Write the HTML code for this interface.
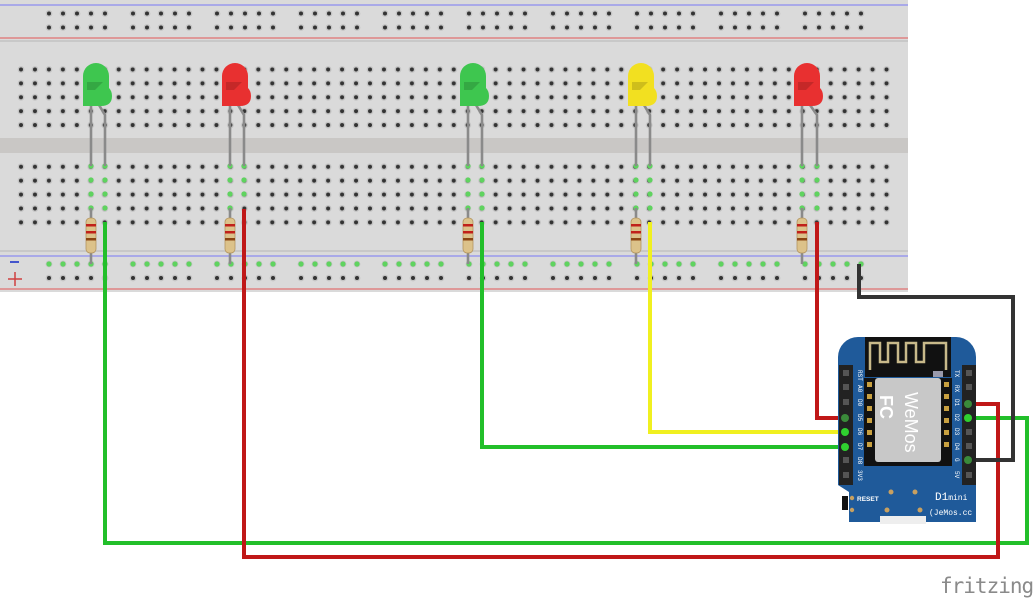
<!DOCTYPE html>
<html><head><meta charset="utf-8"><style>
html,body{margin:0;padding:0;background:#fff;width:1033px;height:600px;overflow:hidden}
svg{display:block}
</style></head><body>
<svg width="1033" height="600" viewBox="0 0 1033 600" xmlns="http://www.w3.org/2000/svg">
<defs>
<pattern id="main" x="14" y="62.5" width="13.96" height="13.9" patternUnits="userSpaceOnUse">
<circle cx="7" cy="7" r="3.4" fill="#c4c4c4"/><circle cx="7" cy="7" r="2" fill="#333"/>
</pattern>
<pattern id="rail" x="42" y="6.5" width="84" height="14" patternUnits="userSpaceOnUse">
<g fill="#c4c4c4"><circle cx="7" cy="7" r="3.4"/><circle cx="21" cy="7" r="3.4"/><circle cx="35" cy="7" r="3.4"/><circle cx="49" cy="7" r="3.4"/><circle cx="63" cy="7" r="3.4"/></g>
<g fill="#333"><circle cx="7" cy="7" r="2"/><circle cx="21" cy="7" r="2"/><circle cx="35" cy="7" r="2"/><circle cx="49" cy="7" r="2"/><circle cx="63" cy="7" r="2"/></g>
</pattern>
<pattern id="rail2" x="42" y="257" width="84" height="14" patternUnits="userSpaceOnUse">
<g fill="#c4c4c4"><circle cx="7" cy="7" r="3.4"/><circle cx="21" cy="7" r="3.4"/><circle cx="35" cy="7" r="3.4"/><circle cx="49" cy="7" r="3.4"/><circle cx="63" cy="7" r="3.4"/></g>
<g fill="#333"><circle cx="7" cy="7" r="2"/><circle cx="21" cy="7" r="2"/><circle cx="35" cy="7" r="2"/><circle cx="49" cy="7" r="2"/><circle cx="63" cy="7" r="2"/></g>
</pattern>
<g id="res"><rect x="-5" y="0" width="10" height="35" rx="4" fill="#dcc28a" stroke="#b39560" stroke-width="0.8"/>
<rect x="-5" y="6" width="10" height="2.5" fill="#c0201a"/><rect x="-5" y="13" width="10" height="2.5" fill="#c0201a"/><rect x="-5" y="20" width="10" height="2.5" fill="#8b4513"/></g>
<path id="led" d="M-14 106 V76 a13 13 0 0 1 26 0 V88 q3 3 3 8 q0 10 -11 10 Z"/>
</defs>

<!-- breadboard -->
<rect x="0" y="0" width="908" height="292" fill="#dadada"/>
<rect x="0" y="40" width="908" height="2" fill="#c8c8c8"/>
<rect x="0" y="138" width="908" height="15" fill="#c9c7c5"/>
<rect x="0" y="250" width="908" height="2" fill="#c8c8c8"/>
<line x1="0" y1="5" x2="908" y2="5" stroke="#8c8cf0" stroke-width="1.2"/>
<line x1="0" y1="38" x2="908" y2="38" stroke="#e07070" stroke-width="1.2"/>
<line x1="0" y1="256" x2="908" y2="256" stroke="#8c8cf0" stroke-width="1.2"/>
<line x1="0" y1="289" x2="908" y2="289" stroke="#e07070" stroke-width="1.2"/>
<rect x="42" y="6.5" width="828" height="28" fill="url(#rail)"/>
<rect x="42" y="257" width="828" height="28" fill="url(#rail2)"/>
<rect x="14" y="62.5" width="880" height="69.5" fill="url(#main)"/>
<rect x="14" y="159" width="880" height="69.5" fill="url(#main)"/>
<line x1="10" y1="262" x2="19" y2="262" stroke="#4455cc" stroke-width="2"/>
<line x1="8" y1="279" x2="22" y2="279" stroke="#d04040" stroke-width="1.5"/>
<line x1="15" y1="272" x2="15" y2="286" stroke="#d04040" stroke-width="1.5"/>

<!-- green highlighted holes -->
<g fill="#5fd35f">
<circle cx="91" cy="166" r="2.6"/><circle cx="105" cy="166" r="2.6"/><circle cx="91" cy="180" r="2.6"/><circle cx="105" cy="180" r="2.6"/><circle cx="91" cy="194" r="2.6"/><circle cx="105" cy="194" r="2.6"/><circle cx="91" cy="208" r="2.6"/><circle cx="105" cy="208" r="2.6"/>
<circle cx="230" cy="166" r="2.6"/><circle cx="244" cy="166" r="2.6"/><circle cx="230" cy="180" r="2.6"/><circle cx="244" cy="180" r="2.6"/><circle cx="230" cy="194" r="2.6"/><circle cx="244" cy="194" r="2.6"/><circle cx="230" cy="208" r="2.6"/>
<circle cx="468" cy="166" r="2.6"/><circle cx="482" cy="166" r="2.6"/><circle cx="468" cy="180" r="2.6"/><circle cx="482" cy="180" r="2.6"/><circle cx="468" cy="194" r="2.6"/><circle cx="482" cy="194" r="2.6"/><circle cx="468" cy="208" r="2.6"/><circle cx="482" cy="208" r="2.6"/>
<circle cx="636" cy="166" r="2.6"/><circle cx="650" cy="166" r="2.6"/><circle cx="636" cy="180" r="2.6"/><circle cx="650" cy="180" r="2.6"/><circle cx="636" cy="194" r="2.6"/><circle cx="650" cy="194" r="2.6"/><circle cx="636" cy="208" r="2.6"/><circle cx="650" cy="208" r="2.6"/>
<circle cx="802" cy="166" r="2.6"/><circle cx="817" cy="166" r="2.6"/><circle cx="802" cy="180" r="2.6"/><circle cx="817" cy="180" r="2.6"/><circle cx="802" cy="194" r="2.6"/><circle cx="817" cy="194" r="2.6"/><circle cx="802" cy="208" r="2.6"/><circle cx="817" cy="208" r="2.6"/>
<circle cx="49" cy="264" r="2.6"/><circle cx="63" cy="264" r="2.6"/><circle cx="77" cy="264" r="2.6"/><circle cx="91" cy="264" r="2.6"/><circle cx="105" cy="264" r="2.6"/>
<circle cx="133" cy="264" r="2.6"/><circle cx="147" cy="264" r="2.6"/><circle cx="161" cy="264" r="2.6"/><circle cx="175" cy="264" r="2.6"/><circle cx="189" cy="264" r="2.6"/>
<circle cx="217" cy="264" r="2.6"/><circle cx="231" cy="264" r="2.6"/><circle cx="245" cy="264" r="2.6"/><circle cx="259" cy="264" r="2.6"/><circle cx="273" cy="264" r="2.6"/>
<circle cx="301" cy="264" r="2.6"/><circle cx="315" cy="264" r="2.6"/><circle cx="329" cy="264" r="2.6"/><circle cx="343" cy="264" r="2.6"/><circle cx="357" cy="264" r="2.6"/>
<circle cx="385" cy="264" r="2.6"/><circle cx="399" cy="264" r="2.6"/><circle cx="413" cy="264" r="2.6"/><circle cx="427" cy="264" r="2.6"/><circle cx="441" cy="264" r="2.6"/>
<circle cx="469" cy="264" r="2.6"/><circle cx="483" cy="264" r="2.6"/><circle cx="497" cy="264" r="2.6"/><circle cx="511" cy="264" r="2.6"/><circle cx="525" cy="264" r="2.6"/>
<circle cx="553" cy="264" r="2.6"/><circle cx="567" cy="264" r="2.6"/><circle cx="581" cy="264" r="2.6"/><circle cx="595" cy="264" r="2.6"/><circle cx="609" cy="264" r="2.6"/>
<circle cx="637" cy="264" r="2.6"/><circle cx="651" cy="264" r="2.6"/><circle cx="665" cy="264" r="2.6"/><circle cx="679" cy="264" r="2.6"/><circle cx="693" cy="264" r="2.6"/>
<circle cx="721" cy="264" r="2.6"/><circle cx="735" cy="264" r="2.6"/><circle cx="749" cy="264" r="2.6"/><circle cx="763" cy="264" r="2.6"/><circle cx="777" cy="264" r="2.6"/>
<circle cx="805" cy="264" r="2.6"/><circle cx="819" cy="264" r="2.6"/><circle cx="833" cy="264" r="2.6"/><circle cx="847" cy="264" r="2.6"/><circle cx="861" cy="264" r="2.6"/>
</g>

<!-- LEDs -->
<g stroke="#8a8a8a" stroke-width="2.6" fill="none">
<path d="M91 105 V166"/><path d="M99 105 L105 115 V166"/>
<path d="M230 105 V166"/><path d="M238 105 L244 115 V166"/>
<path d="M468 105 V166"/><path d="M476 105 L482 115 V166"/>
<path d="M636 105 V166"/><path d="M644 105 L650 115 V166"/>
<path d="M802 105 V166"/><path d="M810 105 L817 115 V166"/>
<path d="M91 208 V264"/><path d="M230 208 V264"/><path d="M468 208 V264"/><path d="M636 208 V264"/><path d="M802 208 V264"/>
</g>
<use href="#led" x="97" y="0" fill="#3ec64f"/>
<use href="#led" x="236" y="0" fill="#e83030"/>
<use href="#led" x="474" y="0" fill="#3ec64f"/>
<use href="#led" x="642" y="0" fill="#f2e020"/>
<use href="#led" x="808" y="0" fill="#e83030"/>
<g fill="#000" opacity="0.15">
<path d="M87 82 h16 l-8 8 h-8z"/><path d="M226 82 h16 l-8 8 h-8z"/><path d="M464 82 h16 l-8 8 h-8z"/><path d="M632 82 h16 l-8 8 h-8z"/><path d="M798 82 h16 l-8 8 h-8z"/>
</g>
<!-- resistors -->
<use href="#res" x="91" y="218"/><use href="#res" x="230" y="218"/><use href="#res" x="468" y="218"/><use href="#res" x="636" y="218"/><use href="#res" x="802" y="218"/>

<!-- wires -->
<g fill="none" stroke-width="4" stroke-linejoin="miter">
<path d="M105 222 V543 H1027 V418 H968" stroke="#22bf2a"/>
<path d="M244 209 V557 H998 V404 H968" stroke="#c01818"/>
<path d="M482 222 V447 H845" stroke="#22bf2a"/>
<path d="M650 222 V432 H845" stroke="#f0f020"/>
<path d="M817 222 V418 H845" stroke="#c01818"/>
<path d="M859 264 V297 H1013 V460 H968" stroke="#333"/>
</g>

<!-- D1 mini board -->
<path d="M858 337 H956 a20 20 0 0 1 20 20 V522 H849 V492 L838 485 V357 a20 20 0 0 1 20 -20Z" fill="#1f5a9a"/>
<rect x="865" y="337" width="86" height="40" fill="#111"/>
<path d="M870 370 V343 H880 V362 H888 V343 H898 V362 H906 V343 H916 V362 H924 V343 H946 V370" fill="none" stroke="#c8b98a" stroke-width="2.5"/>
<rect x="933" y="371" width="10" height="6" fill="#99a"/>
<rect x="839" y="365" width="14" height="120" fill="#222"/>
<rect x="962" y="365" width="14" height="120" fill="#222"/>
<g fill="#555"><rect x="843" y="370" width="6" height="6"/><rect x="843" y="384" width="6" height="6"/><rect x="843" y="399" width="6" height="6"/><rect x="843" y="457" width="6" height="6"/><rect x="843" y="472" width="6" height="6"/>
<rect x="966" y="370" width="6" height="6"/><rect x="966" y="384" width="6" height="6"/><rect x="966" y="429" width="6" height="6"/><rect x="966" y="443" width="6" height="6"/><rect x="966" y="472" width="6" height="6"/></g>
<g fill="#2fd02f"><circle cx="845" cy="432" r="4"/><circle cx="845" cy="447" r="4"/><circle cx="968" cy="418" r="4"/></g>
<g fill="#3a8a3a"><circle cx="845" cy="418" r="4"/><circle cx="968" cy="404" r="4"/><circle cx="968" cy="460" r="4"/></g>
<rect x="864" y="378" width="88" height="88" fill="#111"/>
<rect x="875" y="378" width="66" height="84" rx="3" fill="#c8c8c8"/>
<g fill="#c8a040"><rect x="867" y="382" width="5" height="5"/><rect x="867" y="394" width="5" height="5"/><rect x="867" y="406" width="5" height="5"/><rect x="867" y="418" width="5" height="5"/><rect x="867" y="430" width="5" height="5"/><rect x="867" y="442" width="5" height="5"/>
<rect x="944" y="382" width="5" height="5"/><rect x="944" y="394" width="5" height="5"/><rect x="944" y="406" width="5" height="5"/><rect x="944" y="418" width="5" height="5"/><rect x="944" y="430" width="5" height="5"/><rect x="944" y="442" width="5" height="5"/></g>
<text x="0" y="0" transform="translate(880,395) rotate(90)" font-family="Liberation Sans,sans-serif" font-weight="bold" font-size="18" fill="#fff">FC</text>
<text x="0" y="0" transform="translate(905,392) rotate(90)" font-family="Liberation Sans,sans-serif" font-size="18" fill="#fff">WeMos</text>
<g font-family="Liberation Mono,monospace" font-size="6" fill="#fff">
<text transform="translate(858,370) rotate(90)">RST</text>
<text transform="translate(858,385) rotate(90)">A0</text>
<text transform="translate(858,399) rotate(90)">D0</text>
<text transform="translate(858,414) rotate(90)">D5</text>
<text transform="translate(858,428) rotate(90)">D6</text>
<text transform="translate(858,443) rotate(90)">D7</text>
<text transform="translate(858,457) rotate(90)">D8</text>
<text transform="translate(858,470) rotate(90)">3V3</text>
<text transform="translate(955,370) rotate(90)">TX</text>
<text transform="translate(955,385) rotate(90)">RX</text>
<text transform="translate(955,399) rotate(90)">D1</text>
<text transform="translate(955,414) rotate(90)">D2</text>
<text transform="translate(955,428) rotate(90)">D3</text>
<text transform="translate(955,443) rotate(90)">D4</text>
<text transform="translate(955,458) rotate(90)">G</text>
<text transform="translate(955,471) rotate(90)">5V</text>
</g>
<g fill="#c8a060"><circle cx="852" cy="498" r="2.2"/><circle cx="852" cy="510" r="2.2"/><circle cx="891" cy="492" r="2.5"/><circle cx="915" cy="492" r="2.5"/><circle cx="887" cy="510" r="2.5"/><circle cx="920" cy="510" r="2.5"/></g>
<rect x="842" y="496" width="6" height="14" fill="#111"/>
<text x="857" y="501" font-family="Liberation Sans,sans-serif" font-weight="bold" font-size="6.5" fill="#fff">RESET</text>
<text x="935" y="500" font-family="Liberation Mono,monospace" font-size="11" fill="#fff">D1<tspan font-size="8">mini</tspan></text>
<text x="929" y="515" font-family="Liberation Mono,monospace" font-size="8" fill="#fff">(JeMos.cc</text>
<rect x="880" y="516" width="46" height="8" fill="#eee"/>

<text x="940" y="593" font-family="DejaVu Sans Mono,Liberation Mono,monospace" font-size="21" fill="#8a8a8a" letter-spacing="-1">fritzing</text>
</svg>
</body></html>
